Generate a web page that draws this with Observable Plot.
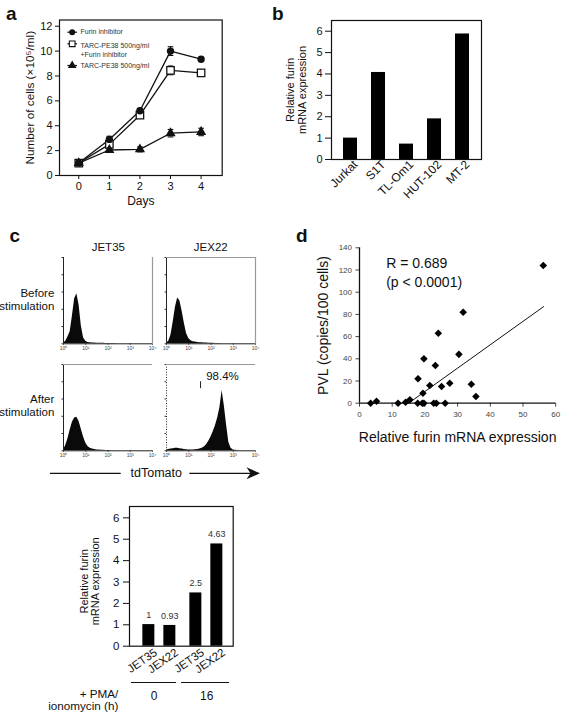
<!DOCTYPE html>
<html><head><meta charset="utf-8">
<script src="https://cdn.jsdelivr.net/npm/d3@7"></script>
<script src="https://cdn.jsdelivr.net/npm/@observablehq/plot@0.6"></script>
<style>
html,body{margin:0;padding:0;background:#fff;}
#root{position:relative;width:563px;height:712px;overflow:hidden;background:#fff;font-family:"Liberation Sans",Arial,Helvetica,sans-serif;color:#111;}
#root svg{overflow:visible;}
.t{position:absolute;white-space:nowrap;line-height:1;}
</style></head><body><div id="root"></div>
<script>
// ---------- Panel a: growth curves ----------
const days = [0, 1, 2, 3, 4];
const furinInhibitor = [1.0, 2.9, 5.2, 10.0, 9.35];
const furinInhibitorErr = [0.1, 0.25, 0.2, 0.35, 0.15];
const tarcFurin = [1.0, 2.5, 4.85, 8.45, 8.25];
const tarcFurinErr = [0.1, 0.3, 0.2, 0.35, 0.25];
const tarc = [1.0, 2.05, 2.1, 3.4, 3.5];
const tarcErr = [0.1, 0.15, 0.2, 0.3, 0.3];
const legendA = ["Furin inhibitor", "TARC-PE38 500ng/ml\n+Furin inhibitor", "TARC-PE38 500ng/ml"];
const yTicksA = [0, 2, 4, 6, 8, 10, 12];

// ---------- Panel b: cell lines ----------
const cellLines = ["Jurkat", "S1T", "TL-Om1", "HUT-102", "MT-2"];
const cellLineFurin = [1.0, 4.07, 0.72, 1.9, 5.87];
const yTicksB = [0, 1, 2, 3, 4, 5, 6];

// ---------- Panel c: flow histograms (tdTomato, log decades) ----------
const histDecades = [0,0.1,0.2,0.3,0.4,0.5,0.6,0.7,0.8,0.9,1,1.1,1.2,1.3,1.4,1.5,1.6,1.7,1.8,1.9,2,2.1,2.2,2.3,2.4,2.5,2.6,2.7,2.8,2.9,3,3.1,3.2,3.3,3.4,3.5,3.6,3.7,3.8,3.9,4];
const jet35Before = [0.5,3,8,14,32,52,58,45,21,7,3,1.6,1.2,1,0.8,0.7,0.6,0.5,0.5,0.4,0.4,0.3,0.3,0.3,0.2,0.2,0.2,0.2,0.1,0.1,0.1,0.1,0.1,0,0,0,0,0,0,0,0];
const jex22Before = [0.5,3,10,25,42,53,50,38,24,12,6,3.5,2.5,2,1.6,1.3,1.1,0.9,0.8,0.7,0.6,0.5,0.4,0.3,0.3,0.2,0.2,0.2,0.1,0.1,0.1,0.1,0.1,0,0,0,0,0,0,0,0];
const jet35After = [1,6,14,24,33,38,39,34,25,16,9,5,3,2,1.5,1,0.8,0.6,0.5,0.4,0.3,0.3,0.2,0.2,0.2,0.1,0.1,0.1,0.1,0,0,0,0,0,0,0,0,0,0,0,0];
const jex22After = [1,1.5,2,2.5,3,3,2.5,2,1.5,1.2,1,1,1,1.2,1.5,2,3,4.5,7,11,16,22,29,38,50,70,52,30,10,3,1,0.5,0.3,0.2,0.1,0,0,0,0,0,0];
const histXTicks = [0, 1, 2, 3, 4];
const histTickLabels = ["10⁰", "10¹", "10²", "10³", "10⁴"];
const histYTicks = [0, 20, 40, 60, 80, 100];
const gateJex22After = {x: 1.53, y1: 72, y2: 80};

// ---------- Panel c (bottom): stimulation bars ----------
const stimCells = ["JET35", "JEX22", "JET35", "JEX22"];
const stimHours = ["0", "0", "16", "16"];
const stimFurin = [1.01, 0.97, 2.49, 4.78];
const stimValueLabels = ["1", "0.93", "2.5", "4.63"];

// ---------- Panel d: scatter ----------
const furinRel = [3.4, 5.2, 11.8, 14.1, 15.4, 17.9, 17.8, 19.4, 19.2, 19.7, 19.7, 21.5, 22.7, 23.2, 23.5, 24.1, 25.1, 26.2, 27.6, 30.4, 31.7, 34.2, 35.6, 56.2];
const pvl      = [0,   1.8, 0,    0.9,  3,    22,   0,    9,    0,    0,    40,   16,   0,    34,   0,    63,   15,   0,    18,   44,   82,   17,   6,    124];
const fitX = [15.0, 56.3];
const fitY = [0, 87];
const xTicksD = [0, 10, 20, 30, 40, 50, 60];
const yTicksD = [0, 20, 40, 60, 80, 100, 120, 140];

// ================= drawing =================
const FONT = '"Liberation Sans", Arial, Helvetica, sans-serif';
const root = document.getElementById("root");
const fmt = d => String(d);
const baseStyle = (size) => ({fontFamily: FONT, fontSize: size + "px", color: "#111", background: "transparent", overflow: "visible"});
function place(el, left, top) {
  el.style.position = "absolute";
  el.style.left = left + "px";
  el.style.top = top + "px";
  root.appendChild(el);
  return el;
}
function txt(s, x, y, {size = 12, anchor = "start", weight = "normal", color = "#111"} = {}) {
  const d = document.createElement("div");
  d.className = "t";
  d.textContent = s;
  d.style.fontSize = size + "px";
  d.style.fontWeight = weight;
  d.style.color = color;
  d.style.top = (y - 0.49 * size) + "px";
  if (anchor === "start") { d.style.left = x + "px"; }
  else if (anchor === "end") { d.style.left = (x - 300) + "px"; d.style.width = "300px"; d.style.textAlign = "right"; }
  else { d.style.left = (x - 150) + "px"; d.style.width = "300px"; d.style.textAlign = "center"; }
  root.appendChild(d);
  return d;
}
const capSymbol = {draw(ctx, size) { const w = Math.sqrt(size) / 2; ctx.moveTo(-w, 0); ctx.lineTo(w, 0); }};
const yTitle = (s, dx, size, extra = {}) => Plot.text([s], {frameAnchor: "left", rotate: -90, dx, text: d => d, textAnchor: "middle", lineAnchor: "middle", fontSize: size, ...extra});
const xTitle = (s, dy, size) => Plot.text([s], {frameAnchor: "bottom", dy, text: d => d, textAnchor: "middle", lineAnchor: "middle", fontSize: size});

// ---- Panel a ----
const seriesA = [
  {key: "tarcFurin", vals: tarcFurin, err: tarcFurinErr},
  {key: "furin", vals: furinInhibitor, err: furinInhibitorErr},
  {key: "tarc", vals: tarc, err: tarcErr}
];
const rowsA = seriesA.flatMap(s => days.map((d, i) => ({series: s.key, day: d, v: s.vals[i], e: s.err[i]})));
const only = k => rowsA.filter(r => r.series === k);
const plotA = Plot.plot({
  width: 280, height: 215,
  marginLeft: 59, marginRight: 58.3, marginTop: 19.5, marginBottom: 40,
  style: baseStyle(11),
  x: {domain: [-0.63, 4.69], ticks: days, tickFormat: fmt, tickSize: 4, tickPadding: 3, label: null},
  y: {domain: [0, 12.5], ticks: yTicksA, tickFormat: fmt, tickSize: 4, tickPadding: 3, label: null},
  marks: [
    Plot.frame({stroke: "#111", strokeWidth: 1.2}),
    Plot.ruleX(rowsA, {x: "day", y1: d => d.v - d.e, y2: d => d.v + d.e, stroke: "#111", strokeWidth: 1.1}),
    Plot.dot(rowsA, {x: "day", y: d => d.v + d.e, symbol: capSymbol, r: 3.2, stroke: "#111", strokeWidth: 1.1}),
    Plot.dot(rowsA, {x: "day", y: d => d.v - d.e, symbol: capSymbol, r: 3.2, stroke: "#111", strokeWidth: 1.1}),
    Plot.line(rowsA, {x: "day", y: "v", z: "series", stroke: "#111", strokeWidth: 1.3}),
    Plot.dot(only("tarcFurin"), {x: "day", y: "v", symbol: "square", r: 4.2, fill: "white", stroke: "#111", strokeWidth: 1.3}),
    Plot.dot(only("furin"), {x: "day", y: "v", symbol: "circle", r: 3.7, fill: "#111", stroke: "none"}),
    Plot.dot(only("tarc"), {x: "day", y: "v", symbol: "triangle", r: 3.8, fill: "#111", stroke: "none"}),
    // legend
    Plot.dot([legendA[0]], {frameAnchor: "top-left", dx: 12.7, dy: 12.2, symbol: capSymbol, r: 5.4, stroke: "#111", strokeWidth: 1.2}),
    Plot.dot([legendA[0]], {frameAnchor: "top-left", dx: 12.7, dy: 12.2, symbol: "circle", r: 3, fill: "#111"}),
    Plot.dot([legendA[1]], {frameAnchor: "top-left", dx: 12.7, dy: 23.8, symbol: capSymbol, r: 5.4, stroke: "#111", strokeWidth: 1.2}),
    Plot.dot([legendA[1]], {frameAnchor: "top-left", dx: 12.7, dy: 23.8, symbol: "square", r: 3.2, fill: "white", stroke: "#111", strokeWidth: 1.1}),
    Plot.dot([legendA[2]], {frameAnchor: "top-left", dx: 12.7, dy: 45.5, symbol: capSymbol, r: 5.4, stroke: "#111", strokeWidth: 1.2}),
    Plot.dot([legendA[2]], {frameAnchor: "top-left", dx: 12.7, dy: 45.5, symbol: "triangle", r: 3.2, fill: "#111"}),
    Plot.text([legendA[0]], {frameAnchor: "top-left", dx: 21, dy: 12.2, text: d => d, textAnchor: "start", lineAnchor: "middle", fontSize: 7, fill: "#333"}),
    Plot.text([legendA[1]], {frameAnchor: "top-left", dx: 21, dy: 21.3, text: d => d, textAnchor: "start", lineAnchor: "top", lineHeight: 1.29, fontSize: 7, fill: "#333"}),
    Plot.text([legendA[2]], {frameAnchor: "top-left", dx: 21, dy: 45.5, text: d => d, textAnchor: "start", lineAnchor: "middle", fontSize: 7, fill: "#333"}),
    yTitle("Number of cells (×10⁵/ml)", -29, 11.8),
    xTitle("Days", 26, 12)
  ]
});
place(plotA, 0, 0);

// ---- Panel b ----
const rowsB = cellLines.map((c, i) => ({cell: c, v: cellLineFurin[i]}));
const plotB = Plot.plot({
  width: 283, height: 215,
  marginLeft: 51, marginRight: 82, marginTop: 20, marginBottom: 56,
  style: baseStyle(11),
  x: {domain: cellLines, paddingInner: 0.5, paddingOuter: 0.37, axis: null},
  y: {domain: [0, 6.5], ticks: yTicksB, tickFormat: fmt, tickSize: 6, tickPadding: 3, label: null},
  marks: [
    Plot.barY(rowsB, {x: "cell", y: "v", fill: "#000"}),
    Plot.frame({stroke: "#111", strokeWidth: 1.2}),
    Plot.axisX({tickRotate: -45, tickSize: 0, tickPadding: 3, dx: 5, fontSize: 12, label: null}),
    yTitle("Relative furin\nmRNA expression", -35.5, 11, {lineHeight: 1.12})
  ]
});
place(plotB, 280, 0);

// ---- Panel c histograms ----
function hist(values, {left, top, right = false, topLine = false, dashedLeft = false, extra = []}) {
  const rows = histDecades.map((d, i) => ({dec: d, n: values[i]}));
  const marks = [
    Plot.areaY(rows, {x: "dec", y: "n", fill: "#0a0a0a"}),
    Plot.axisY({ticks: histYTicks, tickSize: 1.5, tickFormat: () => "", color: "#333"}),
    Plot.axisX({ticks: histXTicks, tickSize: 1.5, tickPadding: 1, tickFormat: d => histTickLabels[histXTicks.indexOf(d)], fontSize: 5, color: "#444"}),
    Plot.ruleY([0], {stroke: "#222", strokeWidth: 1}),
    Plot.ruleX([0], {stroke: "#222", strokeWidth: 1, strokeDasharray: dashedLeft ? "1,1.6" : null})
  ];
  if (right) marks.push(Plot.ruleX([4], {stroke: "#999", strokeWidth: 1.2}));
  if (topLine) marks.push(Plot.ruleY([100], {stroke: "#999", strokeWidth: 1.2}));
  const p = Plot.plot({
    width: 100, height: 101,
    marginLeft: 6, marginRight: 5, marginTop: 4, marginBottom: 10.7,
    style: baseStyle(5),
    x: {domain: [0, 4], label: null},
    y: {domain: [0, 100], label: null},
    marks: marks.concat(extra)
  });
  return place(p, left, top);
}
hist(jet35Before, {left: 57, top: 252.7, right: true});
hist(jex22Before, {left: 160, top: 253, right: true, topLine: true});
hist(jet35After, {left: 57, top: 360, topLine: true});
hist(jex22After, {left: 160, top: 360, topLine: true, dashedLeft: true, extra: [
  Plot.ruleX([gateJex22After], {x: "x", y1: "y1", y2: "y2", stroke: "#222", strokeWidth: 1}),
  Plot.text(["98.4%"], {frameAnchor: "top-left", dx: 56, dy: 11.7, text: d => d, textAnchor: "middle", lineAnchor: "middle", fontSize: 11.5, fill: "#111"})
]});

txt("JET35", 108.3, 247.3, {size: 11.5, anchor: "middle"});
txt("JEX22", 210.8, 248, {size: 11.5, anchor: "middle"});
txt("Before", 54.3, 294, {size: 11.5, anchor: "end"});
txt("stimulation", 54.3, 306.7, {size: 11.5, anchor: "end"});
txt("After", 54.3, 400, {size: 11.5, anchor: "end"});
txt("stimulation", 54.3, 412.7, {size: 11.5, anchor: "end"});
txt("tdTomato", 156.3, 473.3, {size: 12.5, anchor: "middle"});
{
  const ns = "http://www.w3.org/2000/svg";
  const s = document.createElementNS(ns, "svg");
  s.setAttribute("width", 280); s.setAttribute("height", 20);
  s.innerHTML = '<g transform="translate(0,-463)" stroke="#111" fill="#111">' +
    '<line x1="50" y1="473.3" x2="120.7" y2="473.3" stroke-width="1.3"/>' +
    '<line x1="189.3" y1="473.3" x2="252" y2="473.3" stroke-width="1.3"/>' +
    '<path d="M246.5,467.3 L260,473.3 L246.5,479.3 L250.5,473.3 Z" stroke="none"/></g>';
  place(s, 0, 463);
}

// ---- Panel c bottom: stimulation bars (two layers) ----
const plotStimFrame = Plot.plot({
  width: 280, height: 217,
  marginLeft: 129, marginRight: 47.3, marginTop: 11, marginBottom: 66.3,
  style: baseStyle(11.5),
  y: {domain: [0, 6.53], ticks: yTicksB, tickFormat: fmt, tickSize: 6, tickPadding: 4, label: null},
  marks: [
    Plot.ruleY([0], {strokeOpacity: 0}),
    Plot.frame({stroke: "#111", strokeWidth: 1.2}),
    yTitle("Relative furin\nmRNA expression", -39.4, 11, {dy: 5, lineHeight: 1.02})
  ]
});
place(plotStimFrame, 0, 495);
const rowsStim = stimCells.map((c, i) => ({cell: c, group: stimHours[i], v: stimFurin[i], lab: stimValueLabels[i]}));
const plotStimBars = Plot.plot({
  width: 280, height: 217,
  marginLeft: 130.65, marginRight: 45.65, marginTop: 11, marginBottom: 66.3,
  style: baseStyle(11.5),
  fx: {domain: ["0", "16"], paddingInner: 0.188, paddingOuter: 0.179, axis: null, label: null},
  x: {domain: ["JET35", "JEX22"], paddingInner: 0.42, paddingOuter: 0.1, label: null},
  y: {domain: [0, 6.53], axis: null},
  marks: [
    Plot.barY(rowsStim, {fx: "group", x: "cell", y: "v", fill: "#000"}),
    Plot.text(rowsStim, {fx: "group", x: "cell", y: "v", text: "lab", dy: -9.5, fontSize: 9, fill: "#333"}),
    Plot.axisX({tickRotate: -35, tickSize: 0, tickPadding: 5, dx: 7, fontSize: 11.5, label: null})
  ]
});
place(plotStimBars, 0, 495);
{
  const l1 = document.createElement("div");
  l1.style.cssText = "position:absolute;left:130.7px;top:682.2px;width:45px;height:0;border-top:1.2px solid #111;";
  root.appendChild(l1);
  const l2 = document.createElement("div");
  l2.style.cssText = "position:absolute;left:180.7px;top:682.2px;width:48.3px;height:0;border-top:1.2px solid #111;";
  root.appendChild(l2);
}
txt("0", 154, 696, {size: 12, anchor: "middle"});
txt("16", 206.7, 696, {size: 12, anchor: "middle"});
txt("+ PMA/", 118.3, 693.3, {size: 11.7, anchor: "end"});
txt("ionomycin (h)", 118.3, 705.5, {size: 11.7, anchor: "end"});

// ---- Panel d ----
const rowsD = furinRel.map((x, i) => ({x, y: pvl[i]}));
const fitRows = fitX.map((x, i) => ({x, y: fitY[i]}));
const plotD = Plot.plot({
  width: 273, height: 235,
  marginLeft: 69, marginRight: 7.8, marginTop: 32.3, marginBottom: 47.3,
  style: baseStyle(8),
  x: {domain: [0, 60], label: null},
  y: {domain: [0, 140], label: null},
  marks: [
    Plot.axisY({ticks: yTicksD, tickFormat: fmt, tickSize: 3.5, tickPadding: 4, fontSize: 8, color: "#444"}),
    Plot.axisX({ticks: xTicksD, tickFormat: fmt, tickSize: 4, tickPadding: 4, fontSize: 8, color: "#444"}),
    Plot.ruleX([0], {stroke: "#111", strokeWidth: 1.3}),
    Plot.ruleY([0], {stroke: "#111", strokeWidth: 1.3}),
    Plot.line(fitRows, {x: "x", y: "y", stroke: "#111", strokeWidth: 1}),
    Plot.dot(rowsD, {x: "x", y: "y", symbol: "diamond2", r: 3.4, fill: "#000", stroke: "none"}),
    Plot.text(["R = 0.689"], {frameAnchor: "top-left", dx: 26.7, dy: 15.7, text: d => d, textAnchor: "start", lineAnchor: "middle", fontSize: 14}),
    Plot.text(["(p < 0.0001)"], {frameAnchor: "top-left", dx: 26.7, dy: 34.4, text: d => d, textAnchor: "start", lineAnchor: "middle", fontSize: 14}),
    yTitle("PVL (copies/100 cells)", -36, 14),
    xTitle("Relative furin mRNA expression", 34.3, 14)
  ]
});
place(plotD, 290, 215);

// ---- panel letters ----
txt("a", 6, 13.5, {size: 19, weight: "bold"});
txt("b", 272, 13.5, {size: 19, weight: "bold"});
txt("c", 9.5, 235.5, {size: 19, weight: "bold"});
txt("d", 296, 235, {size: 19, weight: "bold"});
</script></body></html>
